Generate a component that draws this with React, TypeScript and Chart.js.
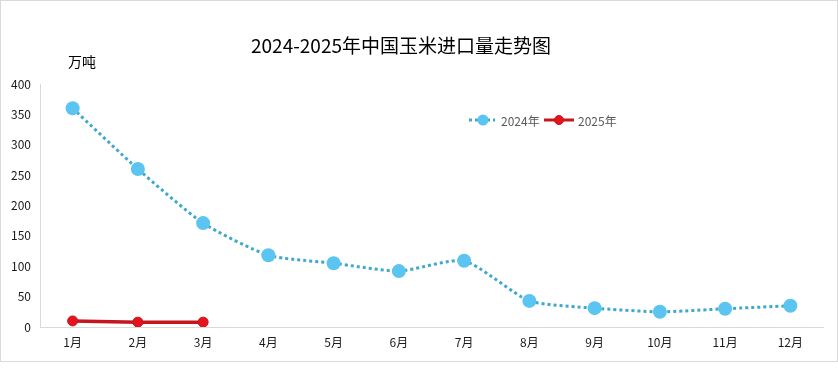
import React, { useEffect, useRef } from "react";
import { Chart, registerables } from "chart.js";

Chart.register(...registerables);

const months = ["1月", "2月", "3月", "4月", "5月", "6月", "7月", "8月", "9月", "10月", "11月", "12月"];
const series2024 = [360, 260, 171, 118, 105, 92, 109, 43, 31, 25, 30, 35];
const series2025 = [10, 8, 8, null, null, null, null, null, null, null, null, null];
const titleText = "2024-2025年中国玉米进口量走势图";
const unitText = "万吨";
const legendLabels = ["2024年", "2025年"];

const FONT = "'Noto Sans CJK SC', 'Noto Sans', sans-serif";

const overlayPlugin = {
  id: "overlay",
  afterDraw(chart: any) {
    const ctx = chart.ctx;
    ctx.save();
    ctx.fillStyle = "#000000";
    ctx.font = `19px ${FONT}`;
    ctx.textAlign = "center";
    ctx.textBaseline = "middle";
    ctx.fillText(titleText, 401, 46);
    ctx.font = `14px ${FONT}`;
    ctx.textAlign = "left";
    ctx.fillText(unitText, 68, 62);
    const ly = 120;
    ctx.font = `12px ${FONT}`;
    ctx.strokeStyle = "#3fa8cc";
    ctx.lineWidth = 3;
    ctx.setLineDash([3, 3]);
    ctx.beginPath();
    ctx.moveTo(469, ly);
    ctx.lineTo(495, ly);
    ctx.stroke();
    ctx.setLineDash([]);
    ctx.fillStyle = "#5bc4f1";
    ctx.beginPath();
    ctx.arc(483, ly, 5.5, 0, Math.PI * 2);
    ctx.fill();
    ctx.fillStyle = "#595959";
    ctx.fillText(legendLabels[0], 501, ly + 1);
    ctx.strokeStyle = "#c5161d";
    ctx.lineWidth = 3;
    ctx.beginPath();
    ctx.moveTo(544, ly);
    ctx.lineTo(574, ly);
    ctx.stroke();
    ctx.fillStyle = "#e5141c";
    ctx.strokeStyle = "#c5161d";
    ctx.lineWidth = 1;
    ctx.beginPath();
    ctx.arc(559, ly, 4.5, 0, Math.PI * 2);
    ctx.fill();
    ctx.stroke();
    ctx.fillStyle = "#595959";
    ctx.fillText(legendLabels[1], 578, ly + 1);
    ctx.restore();
  },
};

export default function App() {
  const ref = useRef<HTMLCanvasElement | null>(null);
  useEffect(() => {
    document.body.style.margin = "0";
    if (!ref.current) return;
    const chart = new Chart(ref.current, {
      type: "line",
      data: {
        labels: months,
        datasets: [
          {
            label: legendLabels[0],
            data: series2024,
            borderColor: "#3fa8cc",
            borderWidth: 3,
            borderDash: [3, 3],
            pointBackgroundColor: "#5bc4f1",
            pointBorderColor: "#5bc4f1",
            pointRadius: 7,
            pointBorderWidth: 0,
            tension: 0.2,
          },
          {
            label: legendLabels[1],
            data: series2025,
            borderColor: "#c5161d",
            borderWidth: 3.5,
            pointBackgroundColor: "#e5141c",
            pointBorderColor: "#c5161d",
            pointBorderWidth: 1,
            pointRadius: 5,
            tension: 0,
          },
        ],
      },
      options: {
        animation: false,
        responsive: false,
        devicePixelRatio: 1,
        layout: { padding: { top: 84, right: 15, bottom: 0, left: 0 } },
        plugins: {
          legend: { display: false },
          title: { display: false },
          tooltip: { enabled: false },
        },
        scales: {
          x: {
            offset: true,
            grid: { display: false, drawTicks: false },
            border: { display: true, color: "#d9d9d9", width: 1 },
            ticks: { color: "#1a1a1a", font: { family: FONT, size: 12 }, padding: 8 },
            afterFit(scale: any) {
              scale.height = 43;
            },
          },
          y: {
            min: 0,
            max: 400,
            grid: { display: false, drawTicks: false },
            border: { display: true, color: "#d9d9d9", width: 1 },
            ticks: { stepSize: 50, color: "#1a1a1a", font: { family: FONT, size: 12 }, padding: 9 },
            afterFit(scale: any) {
              scale.width = 40;
            },
          },
        },
      },
      plugins: [overlayPlugin],
    });
    return () => chart.destroy();
  }, []);
  return (
    <div style={{ position: "relative", width: 838, height: 370, background: "#fff" }}>
      <div
        style={{
          position: "absolute",
          left: 0,
          top: 0,
          width: 838,
          height: 362,
          border: "1px solid #d9d9d9",
          boxSizing: "border-box",
        }}
      />
      <canvas ref={ref} width={838} height={370} style={{ position: "absolute", left: 0, top: 0 }} />
    </div>
  );
}
